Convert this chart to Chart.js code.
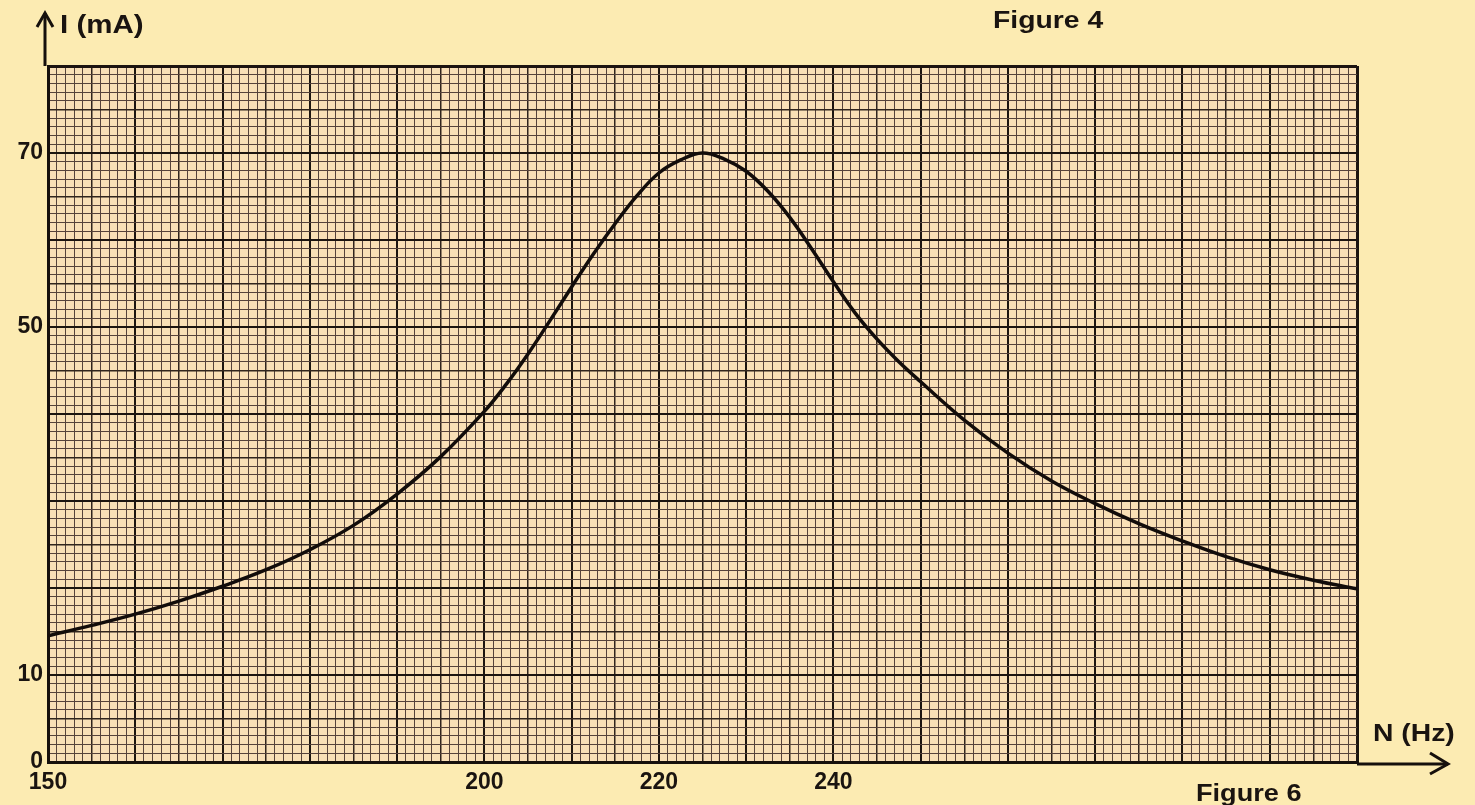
<!DOCTYPE html>
<html lang="en">

<head>
    <meta charset="UTF-8">
    <title>Figure 6 - I(N)</title>
    <script src="https://cdn.jsdelivr.net/npm/chart.js"></script>
    <style>
        body {
            margin: 0;
            background-color: #fcebb2;
            font-family: "Liberation Sans", Arial, sans-serif;
        }

        #wrap {
            position: relative;
            width: 1475px;
            height: 805px;
        }

        .lbl {
            position: absolute;
            font-weight: bold;
            font-size: 24px;
            line-height: 1;
            color: #1a1410;
            white-space: nowrap;
            transform: scaleX(1.18);
            transform-origin: left top;
        }
    </style>
</head>

<body>
    <div id="wrap">
        <canvas id="resChart" width="1475" height="805"></canvas>
        <div class="lbl" style="left:60px; top:12px; font-size:25px;">I (mA)</div>
        <div class="lbl" style="left:993px; top:8px;">Figure 4</div>
        <div class="lbl" style="left:1373px; top:721px;">N (Hz)</div>
        <div class="lbl" style="left:1196px; top:782px; font-size:23px;">Figure 6</div>
    </div>

    <script>
        // values
        const freqHz = [150, 155, 160, 165, 170, 175, 180, 185, 190, 195, 200,
            202.5, 205, 207.5, 210, 212.5, 215, 217.5, 220, 222.5, 225,
            227.5, 230, 232.5, 235, 237.5, 240, 242.5, 245, 247.5, 250,
            255, 260, 265, 270, 275, 280, 285, 290, 295, 300];
        const currentMA = [14.5, 15.7, 17.0, 18.5, 20.2, 22.1, 24.4, 27.2, 30.8, 35.1, 40.3,
            43.4, 46.9, 50.7, 54.6, 58.4, 61.9, 65.1, 67.7, 69.2, 70.0,
            69.3, 67.9, 65.6, 62.6, 59.0, 55.2, 51.6, 48.6, 46.0, 43.7,
            39.3, 35.5, 32.3, 29.7, 27.4, 25.4, 23.6, 22.1, 20.9, 19.9];
        const xTickLabels = [150, 200, 220, 240];
        const yTickLabels = [0, 10, 50, 70];

        const points = freqHz.map((f, i) => ({ x: f, y: currentMA[i] }));

        // graph paper: 1 unit fine lines, 5 medium, 10 thick
        function gridWidth(v, lo, hi) {
            if (v === lo || v === hi) return 3;
            if (v % 10 === 0) return 2;
            if (v % 5 === 0) return 1.5;
            return 1;
        }
        function gridColor(v) {
            if (v % 10 === 0) return "#1c1410";
            if (v % 5 === 0) return "#30241d";
            return "#56423a";
        }

        const paperPlugin = {
            id: "paper",
            beforeDraw(chart) {
                const { ctx, chartArea: a } = chart;
                ctx.save();
                ctx.fillStyle = "#f9dfb6";
                ctx.fillRect(a.left, a.top, a.right - a.left, a.bottom - a.top);
                ctx.restore();
            },
            afterDraw(chart) {
                const { ctx, chartArea: a } = chart;
                ctx.save();
                ctx.strokeStyle = "#16100c";
                ctx.lineWidth = 3;
                // y axis arrow
                ctx.beginPath();
                ctx.moveTo(a.left - 3, a.top);
                ctx.lineTo(a.left - 3, 13);
                ctx.stroke();
                ctx.beginPath();
                ctx.moveTo(a.left - 11, 27);
                ctx.lineTo(a.left - 3, 13);
                ctx.lineTo(a.left + 5, 27);
                ctx.stroke();
                // x axis arrow
                ctx.beginPath();
                ctx.moveTo(a.right, a.bottom + 2);
                ctx.lineTo(1448, a.bottom + 2);
                ctx.stroke();
                ctx.beginPath();
                ctx.moveTo(1430, a.bottom - 9);
                ctx.lineTo(1448, a.bottom + 2);
                ctx.lineTo(1430, a.bottom + 12);
                ctx.stroke();
                ctx.restore();
            }
        };

        const ctx = document.getElementById("resChart").getContext("2d");
        new Chart(ctx, {
            type: "line",
            data: {
                datasets: [{
                    label: "I (mA)",
                    data: points,
                    borderColor: "#120c0a",
                    borderWidth: 3.5,
                    pointRadius: 0,
                    fill: false,
                    tension: 0.4
                }]
            },
            options: {
                responsive: false,
                animation: false,
                layout: {
                    padding: { top: 66, right: 118, left: 0, bottom: 0 }
                },
                plugins: {
                    legend: { display: false },
                    tooltip: { enabled: false }
                },
                scales: {
                    x: {
                        type: "linear",
                        min: 150,
                        max: 300,
                        afterFit: scale => { scale.height = 43; },
                        ticks: {
                            stepSize: 1,
                            autoSkip: false,
                            maxRotation: 0,
                            padding: 7,
                            color: "#1a1410",
                            font: { family: "Liberation Sans", size: 23, weight: "bold" },
                            callback: v => xTickLabels.includes(v) ? String(v) : ""
                        },
                        grid: {
                            drawTicks: false,
                            color: c => gridColor(c.tick.value),
                            lineWidth: c => gridWidth(c.tick.value, 150, 300)
                        },
                        border: { display: true, color: "#16100c", width: 3 }
                    },
                    y: {
                        min: 0,
                        max: 80,
                        afterFit: scale => { scale.width = 48; },
                        ticks: {
                            stepSize: 1,
                            autoSkip: false,
                            padding: 5,
                            color: "#1a1410",
                            font: { family: "Liberation Sans", size: 23, weight: "bold" },
                            callback: v => yTickLabels.includes(v) ? String(v) : ""
                        },
                        grid: {
                            drawTicks: false,
                            color: c => gridColor(c.tick.value),
                            lineWidth: c => gridWidth(c.tick.value, 0, 80)
                        },
                        border: { display: true, color: "#16100c", width: 3 }
                    }
                }
            },
            plugins: [paperPlugin]
        });
    </script>
</body>

</html>
